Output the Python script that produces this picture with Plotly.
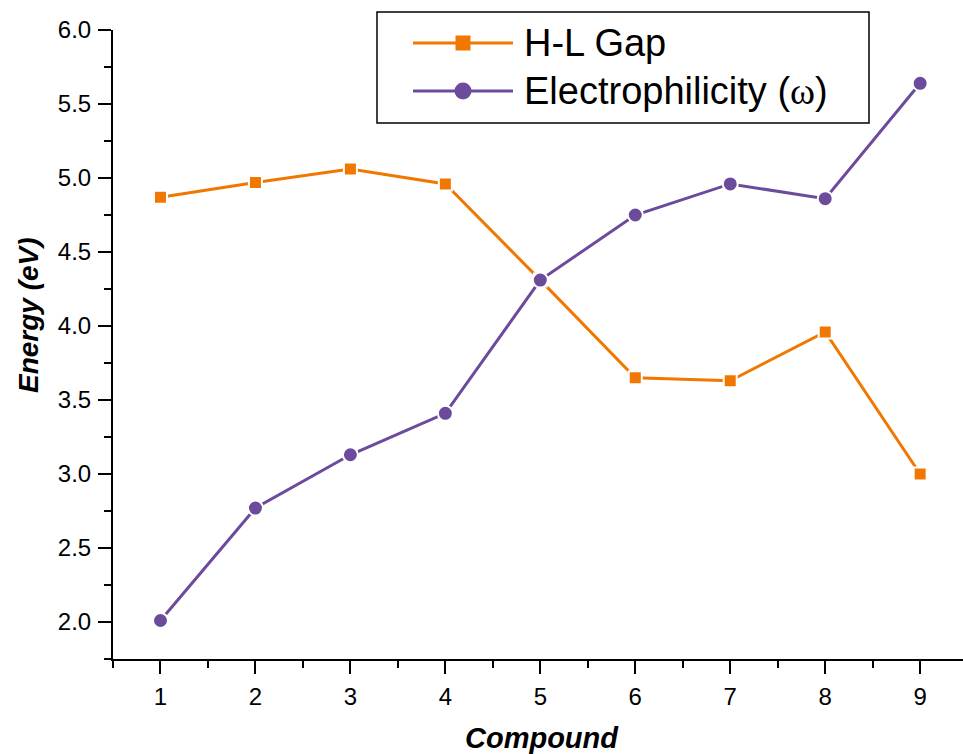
import plotly.graph_objects as go

compounds = [1, 2, 3, 4, 5, 6, 7, 8, 9]
hl_gap = [4.87, 4.97, 5.06, 4.96, 4.31, 3.65, 3.63, 3.96, 3.00]
electrophilicity = [2.01, 2.77, 3.13, 3.41, 4.31, 4.75, 4.96, 4.86, 5.64]
y_tick_vals = [2.0, 2.5, 3.0, 3.5, 4.0, 4.5, 5.0, 5.5, 6.0]
y_tick_text = ["2.0", "2.5", "3.0", "3.5", "4.0", "4.5", "5.0", "5.5", "6.0"]
series_names = ["H-L Gap", 'Electrophilicity (<span style="font-family:Liberation Serif">ω</span>)']

ORANGE = "#F07800"
PURPLE = "#6C4A9C"
FONT = "Arial, Liberation Sans, sans-serif"

W, H = 963, 754
L, R, T, B = 113, 0, 30, 95
PW, PH = W - L - R, H - T - B


def px(x):
    return (x - L) / PW


def py(y):
    return (H - B - y) / PH


fig = go.Figure()
fig.add_trace(go.Scatter(
    x=compounds, y=hl_gap, mode="lines+markers", name="H-L Gap",
    line=dict(color=ORANGE, width=3),
    marker=dict(symbol="square", size=13, color=ORANGE, line=dict(color="white", width=2)),
    showlegend=False, cliponaxis=False,
))
fig.add_trace(go.Scatter(
    x=compounds, y=electrophilicity, mode="lines+markers", name="Electrophilicity",
    line=dict(color=PURPLE, width=3),
    marker=dict(symbol="circle", size=15, color=PURPLE, line=dict(color="white", width=2)),
    showlegend=False, cliponaxis=False,
))

axis_common = dict(
    showgrid=False, zeroline=False, showline=True, linecolor="black", linewidth=2,
    ticks="outside", ticklen=13, tickwidth=2, tickcolor="black",
    tickfont=dict(family=FONT, size=24, color="black"),
)

fig.update_xaxes(
    range=[0.5, 0.5 + PW / 94.96], tickmode="array", tickvals=compounds,
    ticktext=[str(c) for c in compounds], ticklabelstandoff=2,
    minor=dict(ticks="outside", ticklen=7, tickwidth=2, tickcolor="black", dtick=0.5, tick0=0.5),
    **axis_common,
)
fig.update_yaxes(
    range=[1.75, 6.0], tickmode="array", tickvals=y_tick_vals, ticktext=y_tick_text,
    ticklabelstandoff=2,
    minor=dict(ticks="outside", ticklen=7, tickwidth=2, tickcolor="black", dtick=0.25, tick0=0),
    **axis_common,
)

# Custom legend
shapes = [
    dict(type="rect", xref="paper", yref="paper", x0=px(377), x1=px(869), y0=py(123), y1=py(12),
         line=dict(color="black", width=1.5), fillcolor="white", layer="above"),
    dict(type="line", xref="paper", yref="paper", x0=px(413), x1=px(513), y0=py(43), y1=py(43),
         line=dict(color=ORANGE, width=3), layer="above"),
    dict(type="rect", xref="paper", yref="paper", x0=px(455.5), x1=px(470.5), y0=py(50.5), y1=py(35.5),
         line=dict(width=0), fillcolor=ORANGE, layer="above"),
    dict(type="line", xref="paper", yref="paper", x0=px(413), x1=px(513), y0=py(91), y1=py(91),
         line=dict(color=PURPLE, width=3), layer="above"),
    dict(type="circle", xref="paper", yref="paper", x0=px(454.5), x1=px(471.5), y0=py(99.5), y1=py(82.5),
         line=dict(width=0), fillcolor=PURPLE, layer="above"),
]

annotations = [
    dict(text=series_names[0], xref="paper", yref="paper", x=px(522), y=py(43),
         xanchor="left", yanchor="middle", showarrow=False,
         font=dict(family=FONT, size=38, color="black")),
    dict(text=series_names[1], xref="paper", yref="paper", x=px(522), y=py(91),
         xanchor="left", yanchor="middle", showarrow=False,
         font=dict(family=FONT, size=38, color="black")),
    dict(text="<b><i>Energy (eV)</i></b>", xref="paper", yref="paper", x=px(28), y=py(315),
         xanchor="center", yanchor="middle", textangle=-90, showarrow=False,
         font=dict(family=FONT, size=28, color="black")),
    dict(text="<b><i>Compound</i></b>", xref="paper", yref="paper", x=px(542), y=py(738),
         xanchor="center", yanchor="middle", showarrow=False,
         font=dict(family=FONT, size=29, color="black")),
]

fig.update_layout(
    width=W, height=H, autosize=False,
    margin=dict(l=L, r=R, t=T, b=B, pad=0),
    paper_bgcolor="white", plot_bgcolor="white",
    showlegend=False, shapes=shapes, annotations=annotations,
    font=dict(family=FONT, color="black"),
)

fig.write_html("out.html", config={"displayModeBar": False},
               post_script="document.body.style.margin='0';")
